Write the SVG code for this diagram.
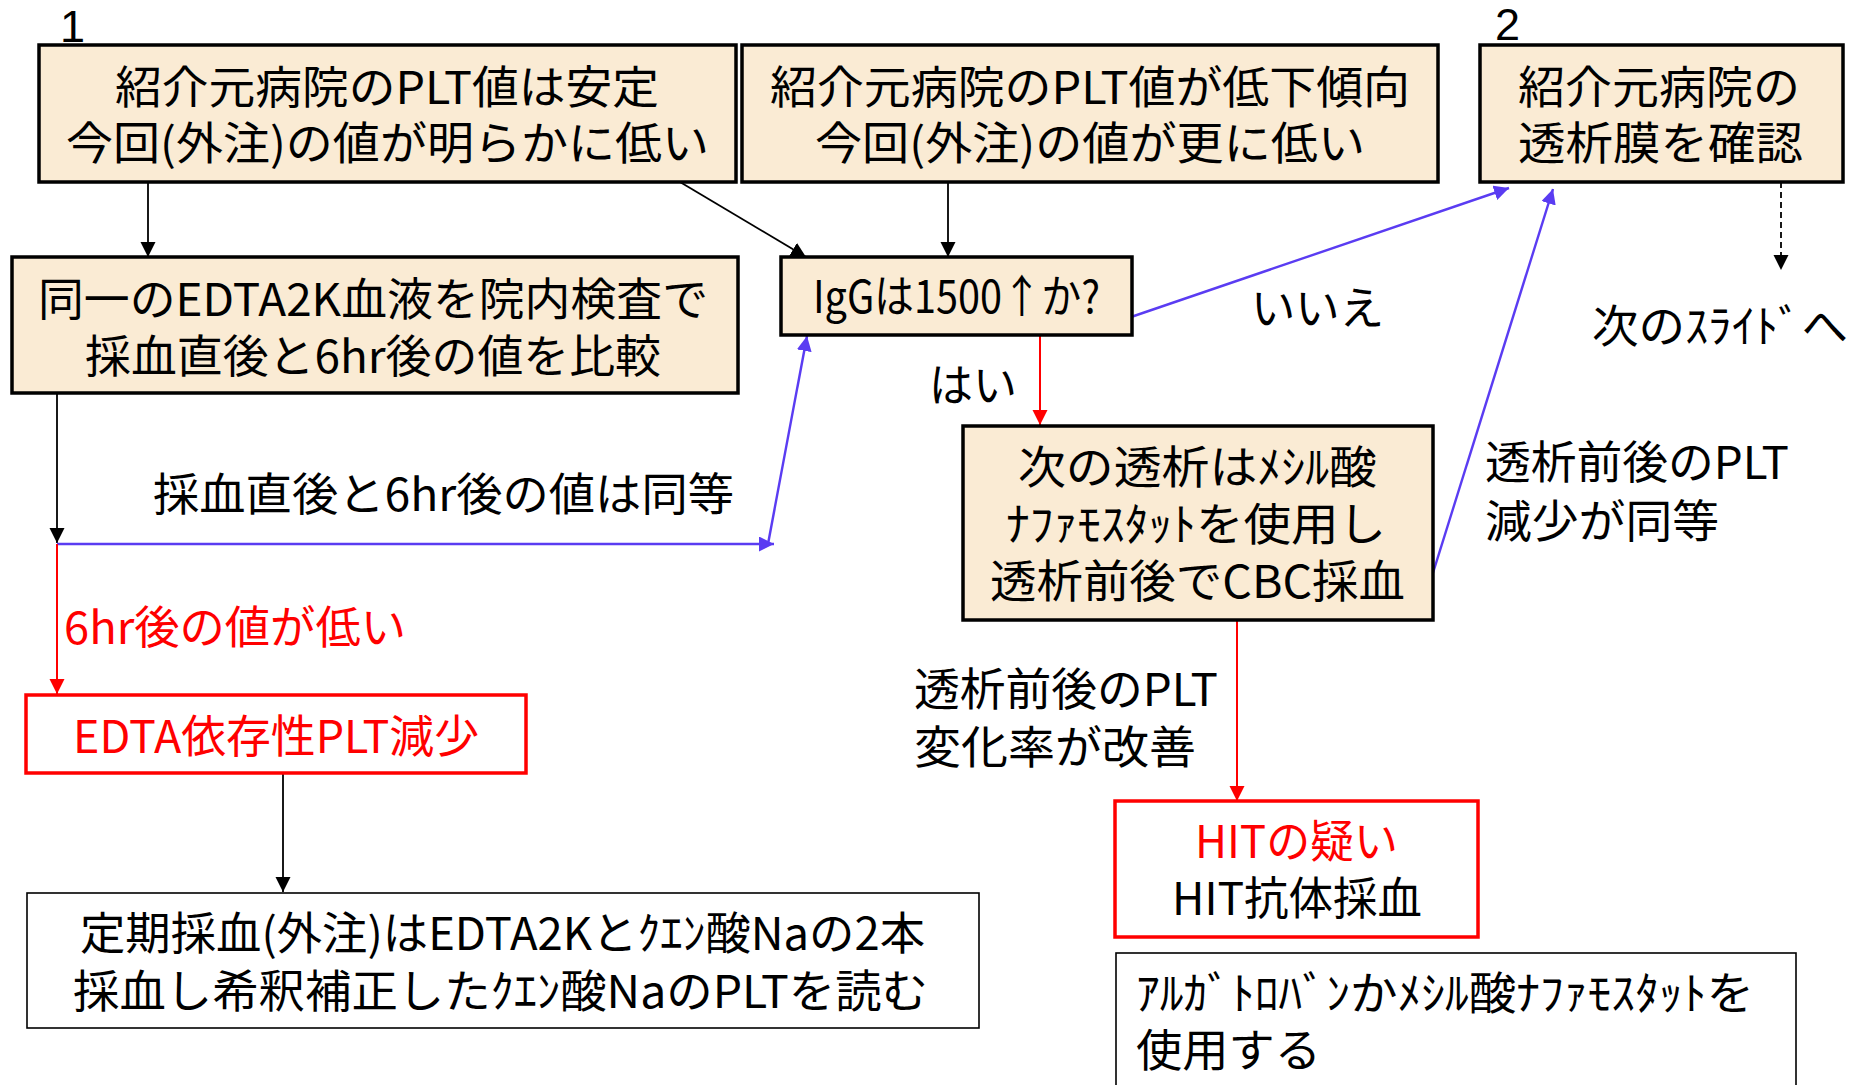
<svg xmlns="http://www.w3.org/2000/svg" width="1854" height="1085" viewBox="0 0 1854 1085">
<defs>
<style>
text{font-family:"Noto Sans CJK JP","Liberation Sans",sans-serif;font-size:45px;fill:#000}
.b{fill:#FAEBD4;stroke:#000;stroke-width:3.5}
.r{fill:#fff;stroke:#FF0000;stroke-width:3.5}
.w{fill:#fff;stroke:#000;stroke-width:1.6}
.red{fill:#FF0000}
.num{font-family:"Liberation Sans",sans-serif;font-size:45px}
.ck{stroke:#000;stroke-width:1.8;fill:none}
.cb{stroke:#5A3CF2;stroke-width:2.4;fill:none}
.cr{stroke:#FF0000;stroke-width:2;fill:none}
</style>
<marker id="ak" markerUnits="userSpaceOnUse" markerWidth="16" markerHeight="16" refX="15" refY="7.5" orient="auto"><path d="M0,0 L15,7.5 L0,15 Z" fill="#000"/></marker>
<marker id="ab" markerUnits="userSpaceOnUse" markerWidth="16" markerHeight="16" refX="15" refY="7.5" orient="auto"><path d="M0,0 L15,7.5 L0,15 Z" fill="#5A3CF2"/></marker>
<marker id="ar" markerUnits="userSpaceOnUse" markerWidth="16" markerHeight="16" refX="15" refY="7.5" orient="auto"><path d="M0,0 L15,7.5 L0,15 Z" fill="#FF0000"/></marker>
</defs>
<rect width="1854" height="1085" fill="#fff"/>

<g id="connectors">
<line class="ck" x1="148" y1="182" x2="148" y2="257" marker-end="url(#ak)"/>
<line class="ck" x1="680" y1="182" x2="806" y2="257" marker-end="url(#ak)"/>
<line class="ck" x1="948" y1="182" x2="948" y2="257" marker-end="url(#ak)"/>
<line class="ck" x1="57" y1="393" x2="57" y2="543" marker-end="url(#ak)"/>
<line class="cb" x1="57" y1="544" x2="774" y2="544" marker-end="url(#ab)"/>
<line class="cb" x1="768" y1="544" x2="807" y2="336" marker-end="url(#ab)"/>
<line class="cr" x1="57" y1="544" x2="57" y2="694" marker-end="url(#ar)"/>
<line class="cr" x1="1040" y1="335" x2="1040" y2="425" marker-end="url(#ar)"/>
<line class="cb" x1="1131" y1="317" x2="1509" y2="188" marker-end="url(#ab)"/>
<line class="cb" x1="1432" y1="576" x2="1553" y2="189" marker-end="url(#ab)"/>
<line class="ck" x1="1781" y1="182" x2="1781" y2="270" stroke-dasharray="6,4" marker-end="url(#ak)"/>
<line class="cr" x1="1237" y1="620" x2="1237" y2="801" marker-end="url(#ar)"/>
<line class="ck" x1="283" y1="773" x2="283" y2="892" marker-end="url(#ak)"/>
</g>

<g id="labels">
<text class="num" x="60" y="42">1</text>
<text class="num" x="1495" y="40">2</text>
<text x="1251" y="325" textLength="133" lengthAdjust="spacingAndGlyphs">いいえ</text>
<text x="929" y="402" textLength="88" lengthAdjust="spacingAndGlyphs">はい</text>
<text x="153" y="511" textLength="581" lengthAdjust="spacingAndGlyphs">採血直後と6hr後の値は同等</text>
<text class="red" x="64" y="644" textLength="342" lengthAdjust="spacingAndGlyphs">6hr後の値が低い</text>
<text x="1485" y="479" textLength="304" lengthAdjust="spacingAndGlyphs">透析前後のPLT</text>
<text x="1485" y="538" textLength="234" lengthAdjust="spacingAndGlyphs">減少が同等</text>
<text x="914" y="706" textLength="304" lengthAdjust="spacingAndGlyphs">透析前後のPLT</text>
<text x="914" y="764" textLength="282" lengthAdjust="spacingAndGlyphs">変化率が改善</text>
<text x="1592" y="343" textLength="256" lengthAdjust="spacingAndGlyphs">次のｽﾗｲﾄﾞへ</text>
</g>

<g id="nodeA">
<rect class="b" x="39" y="45" width="697" height="137"/>
<text x="115" y="104" textLength="544" lengthAdjust="spacingAndGlyphs">紹介元病院のPLT値は安定</text>
<text x="66" y="160" textLength="643" lengthAdjust="spacingAndGlyphs">今回(外注)の値が明らかに低い</text>
</g>

<g id="nodeB">
<rect class="b" x="742" y="45" width="696" height="137"/>
<text x="770" y="104" textLength="640" lengthAdjust="spacingAndGlyphs">紹介元病院のPLT値が低下傾向</text>
<text x="815" y="160" textLength="550" lengthAdjust="spacingAndGlyphs">今回(外注)の値が更に低い</text>
</g>

<g id="nodeC">
<rect class="b" x="1480" y="45" width="363" height="137"/>
<text x="1518" y="104" textLength="282" lengthAdjust="spacingAndGlyphs">紹介元病院の</text>
<text x="1518" y="160" textLength="285" lengthAdjust="spacingAndGlyphs">透析膜を確認</text>
</g>

<g id="nodeD">
<rect class="b" x="12" y="257" width="726" height="136"/>
<text x="38" y="316" textLength="670" lengthAdjust="spacingAndGlyphs">同一のEDTA2K血液を院内検査で</text>
<text x="85" y="373" textLength="576" lengthAdjust="spacingAndGlyphs">採血直後と6hr後の値を比較</text>
</g>

<g id="nodeE">
<rect class="b" x="781" y="257" width="351" height="78"/>
<text x="813" y="313" textLength="287" lengthAdjust="spacingAndGlyphs">IgGは1500↑か?</text>
</g>

<g id="nodeF">
<rect class="b" x="963" y="426" width="470" height="194"/>
<text x="1018" y="484" textLength="359" lengthAdjust="spacingAndGlyphs">次の透析はﾒｼﾙ酸</text>
<text x="1006" y="541" textLength="380" lengthAdjust="spacingAndGlyphs">ﾅﾌｧﾓｽﾀｯﾄを使用し</text>
<text x="990" y="598" textLength="415" lengthAdjust="spacingAndGlyphs">透析前後でCBC採血</text>
</g>

<g id="nodeG">
<rect class="r" x="26" y="695" width="500" height="78"/>
<text class="red" x="73" y="753" textLength="406" lengthAdjust="spacingAndGlyphs">EDTA依存性PLT減少</text>
</g>

<g id="nodeH">
<rect class="w" x="27" y="893" width="952" height="135"/>
<text x="80" y="950" textLength="845" lengthAdjust="spacingAndGlyphs">定期採血(外注)はEDTA2Kとｸｴﾝ酸Naの2本</text>
<text x="73" y="1008" textLength="855" lengthAdjust="spacingAndGlyphs">採血し希釈補正したｸｴﾝ酸NaのPLTを読む</text>
</g>

<g id="nodeI">
<rect class="r" x="1115" y="801" width="363" height="136"/>
<text class="red" x="1195" y="858" textLength="203" lengthAdjust="spacingAndGlyphs">HITの疑い</text>
<text x="1172" y="915" textLength="250" lengthAdjust="spacingAndGlyphs">HIT抗体採血</text>
</g>

<g id="nodeJ">
<rect class="w" x="1116" y="953" width="680" height="145"/>
<text x="1136" y="1010" textLength="618" lengthAdjust="spacingAndGlyphs">ｱﾙｶﾞﾄﾛﾊﾞﾝかﾒｼﾙ酸ﾅﾌｧﾓｽﾀｯﾄを</text>
<text x="1136" y="1067" textLength="185" lengthAdjust="spacingAndGlyphs">使用する</text>
</g>
</svg>
